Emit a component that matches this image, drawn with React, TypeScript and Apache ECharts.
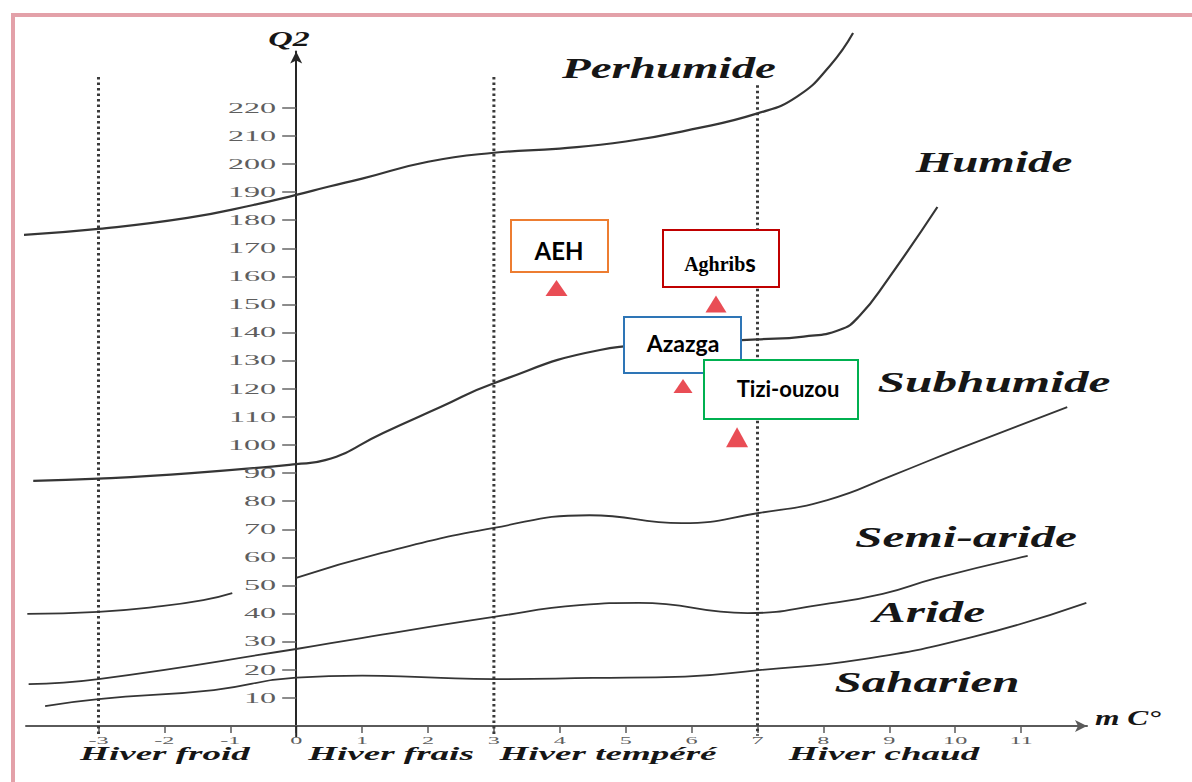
import React, { useEffect, useRef } from "react";
import * as echarts from "echarts";

// Axis ticks
const mTicks = [-3, -2, -1, 0, 1, 2, 3, 4, 5, 6, 7, 8, 9, 10, 11];
const q2Ticks = [10, 20, 30, 40, 50, 60, 70, 80, 90, 100, 110, 120, 130, 140, 150, 160, 170, 180, 190, 200, 210, 220];

// Winter-type limits (dotted verticals)
const winterLimitM = [-3, 3, 7];
const winterLimitTopQ = [231, 231, 228];

// Bioclimatic boundary curves (m °C, Q2)
const perhumideM = [-4.19, -3, -1.65, -0.65, 0, 0.5, 1, 2, 3, 4, 5, 6, 7, 7.6, 8.1, 8.45];
const perhumideQ = [174.7, 176.9, 180.8, 185.4, 189, 192, 194.8, 200.8, 204, 205.5, 208, 212.3, 218, 224, 235, 246.6];

const humideM = [-3.99, -3, -1.59, 0, 0.44, 1.32, 2.19, 3, 4.61, 5.5, 7, 7.7, 8.25, 8.55, 8.97, 9.73];
const humideQ = [87.2, 88, 90, 93.2, 94.6, 104.3, 113.5, 122, 133.8, 135.8, 137.6, 138.6, 141, 146, 158.7, 184.7];

const subhumideM = [0, 1.3, 3, 4.45, 5.85, 7.02, 8.06, 9.06, 10.08, 11.7];
const subhumideQ = [52.7, 61.6, 70.5, 75, 72.2, 75.8, 80.4, 89.3, 98.9, 113.5];

const semiarideLeftM = [-4.08, -3, -2.17, -1.41, -0.97];
const semiarideLeftQ = [39.9, 40.6, 42.3, 44.8, 47.3];

const arideM = [-4.06, -3, 0, 0.99, 3, 4.3, 5.2, 6.85, 8, 8.9, 9.7, 11.1];
const arideQ = [14.9, 16.7, 27.4, 31.3, 38.8, 43, 43.8, 40.2, 43.3, 47, 52.5, 60.5];

const saharienM = [-3.81, -3, -1.25, 0, 1, 2, 3, 4.5, 5.9, 7.02, 8.53, 10.27, 11.99];
const saharienQ = [7.1, 9.6, 12.8, 17.2, 17.9, 17.3, 16.7, 17.1, 17.6, 19.9, 23.5, 31.7, 43.8];

// Stations
const stationNames = ["AEH", "Aghribs", "Azazga", "Tizi-ouzou"];
const stationM = [3.95, 6.37, 5.87, 6.69];
const stationQ = [155.9, 150.2, 121, 102.8];

const zip = (a: number[], b: number[]) => a.map((v, i) => [v, b[i]]);

export default function App() {
  const ref = useRef<HTMLDivElement>(null);

  useEffect(() => {
    document.body.style.margin = "0";
    const chart = echarts.init(ref.current!, null, { renderer: "svg" });

    const curve = (name: string, m: number[], q: number[], width: number) => ({
      name,
      type: "line",
      data: zip(m, q),
      smooth: 0.5,
      showSymbol: false,
      symbol: "none",
      clip: false,
      silent: true,
      lineStyle: { color: "#353535", width },
      z: 3,
    });

    const dotted = winterLimitM.map((m, i) => ({
      type: "line",
      data: [
        [m, winterLimitTopQ[i]],
        [m, -3.5],
      ],
      symbol: "none",
      clip: false,
      silent: true,
      lineStyle: { color: "#3a3a3a", width: 3, type: [2.5, 3], cap: "butt" },
      z: 2,
    }));

    const triSizes = [
      [22, 16],
      [21, 17],
      [19, 14],
      [22, 20],
    ];

    chart.setOption({
      animation: false,
      backgroundColor: "#ffffff",
      grid: { left: 26, right: 105, top: 51.6, bottom: 56, containLabel: false },
      xAxis: {
        type: "value",
        min: -4.1,
        max: 12,
        axisLine: {
          show: true,
          onZero: true,
          symbol: ["none", "arrow"],
          symbolSize: [9, 12],
          lineStyle: { color: "#5a5a5a", width: 2 },
        },
        axisTick: {
          show: true,
          customValues: mTicks,
          length: 7,
          lineStyle: { color: "#5a5a5a", width: 1.5 },
        },
        axisLabel: { show: false },
        splitLine: { show: false },
      },
      yAxis: {
        type: "value",
        min: 0,
        max: 240,
        axisLine: {
          show: true,
          onZero: true,
          symbol: ["none", "arrow"],
          symbolSize: [9, 12],
          lineStyle: { color: "#262626", width: 2 },
        },
        axisTick: {
          show: true,
          customValues: q2Ticks,
          length: 14,
          lineStyle: { color: "#666666", width: 1.5 },
        },
        axisLabel: { show: false },
        splitLine: { show: false },
      },
      series: [
        ...dotted,
        {
          type: "line",
          data: [
            [0, 0],
            [0, -4],
          ],
          symbol: "none",
          clip: false,
          silent: true,
          lineStyle: { color: "#262626", width: 2 },
          z: 2,
        },
        curve("Perhumide", perhumideM, perhumideQ, 2.2),
        curve("Humide", humideM, humideQ, 2.2),
        curve("Subhumide", subhumideM, subhumideQ, 1.8),
        curve("Semi-aride gauche", semiarideLeftM, semiarideLeftQ, 1.8),
        curve("Aride", arideM, arideQ, 1.8),
        curve("Saharien", saharienM, saharienQ, 1.8),
        {
          name: "Stations",
          type: "scatter",
          symbol: "triangle",
          silent: true,
          z: 20,
          itemStyle: { color: "#e3202b" },
          data: stationNames.map((n, i) => ({
            name: n,
            value: [stationM[i], stationQ[i]],
            symbolSize: triSizes[i],
          })),
        },
      ],
    });

    const toPx = (m: number, q: number) =>
      chart.convertToPixel({ gridIndex: 0 }, [m, q]) as number[];

    const tickFont = {
      fontFamily: "Liberation Serif",
      fill: "#5e5e5e",
    };

    const yLabels = q2Ticks.map((q) => {
      const [x, y] = toPx(0, q);
      return {
        type: "text",
        x: x - 20,
        y,
        scaleX: 2.3,
        z: 40,
        style: {
          ...tickFont,
          text: String(q),
          fontSize: 14,
          textAlign: "right",
          textVerticalAlign: "middle",
          align: "right",
          verticalAlign: "middle",
        },
      };
    });

    const xLabels = mTicks.map((m) => {
      const [x, y] = toPx(m, 0);
      return {
        type: "text",
        x,
        y: y + 14,
        scaleX: 2.2,
        z: 40,
        style: {
          ...tickFont,
          text: String(m),
          fontSize: 11,
          textAlign: "center",
          textVerticalAlign: "middle",
          align: "center",
          verticalAlign: "middle",
        },
      };
    });

    const label = (text: string, x: number, y: number, size: number, sx: number, align = "center") => ({
      type: "text",
      x,
      y,
      scaleX: sx,
      z: 50,
      style: {
        text,
        fontFamily: "Liberation Serif",
        fontSize: size,
        fontWeight: "bold",
        fontStyle: "italic",
        fill: "#161616",
        textAlign: align,
        textVerticalAlign: "middle",
        align,
        verticalAlign: "middle",
      },
    });

    const box = (x: number, y: number, w: number, h: number, color: string, z: number) => ({
      type: "rect",
      z,
      shape: { x, y, width: w, height: h },
      style: { fill: "#ffffff", stroke: color, lineWidth: 2 },
    });

    const boxText = (text: string, x: number, y: number, size: number, z: number) => ({
      type: "text",
      x,
      y,
      z,
      style: {
        text,
        fontFamily: "Lato",
        fontWeight: "bold",
        fontSize: size,
        fill: "#000000",
        textAlign: "center",
        textVerticalAlign: "middle",
        align: "center",
        verticalAlign: "middle",
      },
    });

    chart.setOption({
      graphic: [
        {
          type: "rect",
          z: 1,
          shape: { x: 13, y: 15, width: 1200, height: 800 },
          style: { fill: "none", stroke: "#e3a1a9", lineWidth: 4 },
        },
        ...yLabels,
        ...xLabels,
        label("Q2", 289, 39, 20, 1.7),
        label("m C°", 1095, 718, 21, 1.5, "left"),
        label("Perhumide", 669, 68, 29, 1.62),
        label("Humide", 994, 162, 29, 1.62),
        label("Subhumide", 994, 382, 29, 1.7),
        label("Semi-aride", 966, 537, 29, 1.7),
        label("Aride", 929, 612, 29, 1.7),
        label("Saharien", 927, 682, 29, 1.69),
        label("Hiver froid", 165, 754, 19, 1.95),
        label("Hiver frais", 391, 754, 19, 1.95),
        label("Hiver tempéré", 608, 754, 19, 1.95),
        label("Hiver chaud", 884, 754, 19, 1.95),
        box(511, 220, 97, 52, "#ED7D31", 60),
        boxText("AEH", 559, 250, 24, 61),
        box(663, 230, 116, 57, "#C00000", 60),
        {
          type: "text",
          x: 720,
          y: 262,
          z: 61,
          style: {
            text: "{a|Aghrib}{b|s}",
            textAlign: "center",
            textVerticalAlign: "middle",
            align: "center",
            verticalAlign: "middle",
            rich: {
              a: {
                fontFamily: "Liberation Serif",
                fontWeight: "bold",
                fontSize: 20,
                fill: "#000",
                verticalAlign: "bottom",
              },
              b: {
                fontFamily: "Lato",
                fontWeight: "bold",
                fontSize: 24,
                fill: "#000",
                verticalAlign: "bottom",
              },
            },
          },
        },
        box(624, 317, 117, 56, "#2E75B6", 62),
        boxText("Azazga", 683, 343, 23, 63),
        box(704, 360, 154, 59, "#00B050", 64),
        boxText("Tizi-ouzou", 788, 388, 22, 65),
      ],
    });

    return () => chart.dispose();
  }, []);

  return <div ref={ref} style={{ width: 1192, height: 782 }} />;
}
